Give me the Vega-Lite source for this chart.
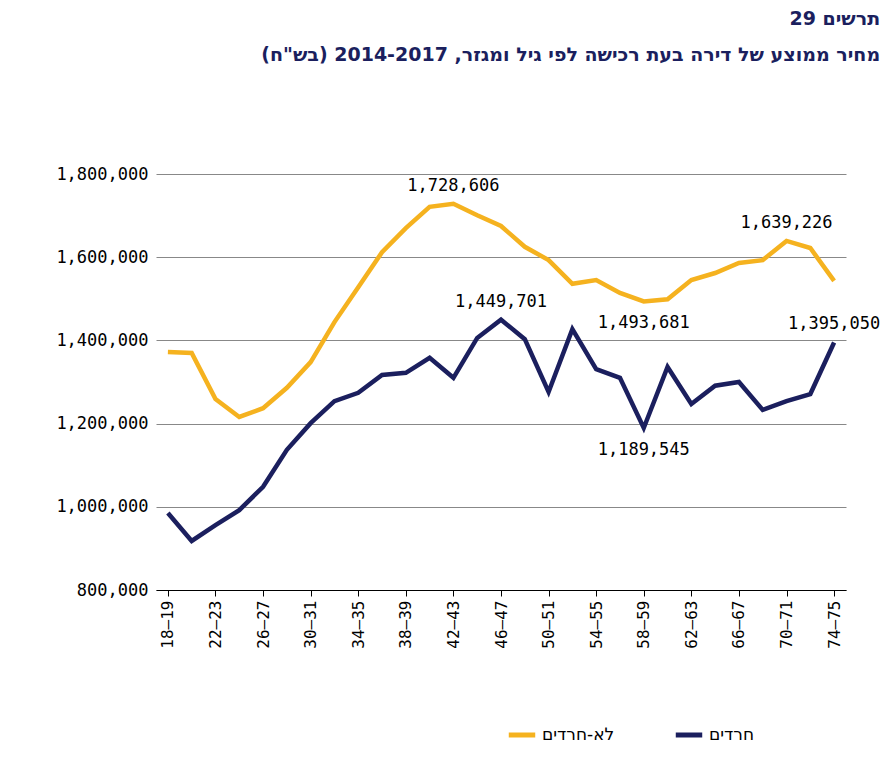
{
"$schema":"https://vega.github.io/schema/vega-lite/v6.json",
"width":690,"height":416,
"padding":{"left":55,"top":10,"right":20,"bottom":10},
"title":{"text":["תרשים 29","מחיר ממוצע של דירה בעת רכישה לפי גיל ומגזר, 2014-2017 (בש\"ח)"],"color":"#1b1f5e","font":"DejaVu Sans","fontSize":19,"fontWeight":"bold","anchor":"end","lineHeight":36,"offset":100},
"config":{"view":{"stroke":null},"font":"DejaVu Sans Mono"},
"data":{"values":[
{"age":"18–19","s":"חרדים","v":985000},{"age":"20–21","s":"חרדים","v":918000},{"age":"22–23","s":"חרדים","v":956000},{"age":"24–25","s":"חרדים","v":992000},{"age":"26–27","s":"חרדים","v":1048000},{"age":"28–29","s":"חרדים","v":1137000},{"age":"30–31","s":"חרדים","v":1201000},{"age":"32–33","s":"חרדים","v":1254000},{"age":"34–35","s":"חרדים","v":1274000},{"age":"36–37","s":"חרדים","v":1317000},{"age":"38–39","s":"חרדים","v":1322000},{"age":"40–41","s":"חרדים","v":1358000},{"age":"42–43","s":"חרדים","v":1310000},{"age":"44–45","s":"חרדים","v":1406000},{"age":"46–47","s":"חרדים","v":1449701,"label":"1,449,701"},{"age":"48–49","s":"חרדים","v":1403000},{"age":"50–51","s":"חרדים","v":1276000},{"age":"52–53","s":"חרדים","v":1427000},{"age":"54–55","s":"חרדים","v":1331000},{"age":"56–57","s":"חרדים","v":1310000},{"age":"58–59","s":"חרדים","v":1189545,"label":"1,189,545","below":true},{"age":"60–61","s":"חרדים","v":1336000},{"age":"62–63","s":"חרדים","v":1247000},{"age":"64–65","s":"חרדים","v":1291000},{"age":"66–67","s":"חרדים","v":1300000},{"age":"68–69","s":"חרדים","v":1233000},{"age":"70–71","s":"חרדים","v":1254000},{"age":"72–73","s":"חרדים","v":1271000},{"age":"74–75","s":"חרדים","v":1395050,"label":"1,395,050"},
{"age":"18–19","s":"לא-חרדים","v":1372000},{"age":"20–21","s":"לא-חרדים","v":1370000},{"age":"22–23","s":"לא-חרדים","v":1259000},{"age":"24–25","s":"לא-חרדים","v":1216000},{"age":"26–27","s":"לא-חרדים","v":1237000},{"age":"28–29","s":"לא-חרדים","v":1286000},{"age":"30–31","s":"לא-חרדים","v":1348000},{"age":"32–33","s":"לא-חרדים","v":1444000},{"age":"34–35","s":"לא-חרדים","v":1528000},{"age":"36–37","s":"לא-חרדים","v":1612000},{"age":"38–39","s":"לא-חרדים","v":1670000},{"age":"40–41","s":"לא-חרדים","v":1721000},{"age":"42–43","s":"לא-חרדים","v":1728606,"label":"1,728,606"},{"age":"44–45","s":"לא-חרדים","v":1701000},{"age":"46–47","s":"לא-חרדים","v":1675000},{"age":"48–49","s":"לא-חרדים","v":1625000},{"age":"50–51","s":"לא-חרדים","v":1593000},{"age":"52–53","s":"לא-חרדים","v":1536000},{"age":"54–55","s":"לא-חרדים","v":1545000},{"age":"56–57","s":"לא-חרדים","v":1514000},{"age":"58–59","s":"לא-חרדים","v":1493681,"label":"1,493,681","below":true},{"age":"60–61","s":"לא-חרדים","v":1499000},{"age":"62–63","s":"לא-חרדים","v":1545000},{"age":"64–65","s":"לא-חרדים","v":1562000},{"age":"66–67","s":"לא-חרדים","v":1586000},{"age":"68–69","s":"לא-חרדים","v":1593000},{"age":"70–71","s":"לא-חרדים","v":1639226,"label":"1,639,226"},{"age":"72–73","s":"לא-חרדים","v":1622000},{"age":"74–75","s":"לא-חרדים","v":1543000}
]},
"encoding":{
"x":{"field":"age","type":"ordinal","sort":null,"scale":{"paddingOuter":0.45},"title":null,"axis":{"values":["18–19","22–23","26–27","30–31","34–35","38–39","42–43","46–47","50–51","54–55","58–59","62–63","66–67","70–71","74–75"],"labelAngle":-90,"labelFontSize":16,"labelColor":"#000","domainColor":"#000","tickColor":"#000","tickSize":6,"labelPadding":4}},
"y":{"field":"v","type":"quantitative","scale":{"domain":[800000,1800000]},"title":null,"axis":{"values":[800000,1000000,1200000,1400000,1600000,1800000],"format":",.0f","labelOverlap":false,"labelFontSize":17,"labelColor":"#000","domain":false,"ticks":false,"gridColor":"#888","labelPadding":8}}
},
"layer":[
{"mark":{"type":"line","strokeWidth":4.5},"encoding":{"color":{"field":"s","type":"nominal","scale":{"domain":["לא-חרדים","חרדים"],"range":["#f5b21f","#1b1f5e"]},"legend":{"orient":"none","legendX":350,"legendY":545,"direction":"horizontal","title":null,"labelFontSize":17,"labelFont":"DejaVu Sans","symbolType":"stroke","symbolStrokeWidth":5,"symbolSize":700,"columnPadding":50}}}},
{"transform":[{"filter":"datum.label && !datum.below"}],"mark":{"type":"text","dy":-18,"fontSize":17},"encoding":{"text":{"field":"label"}}},
{"transform":[{"filter":"datum.label && datum.below"}],"mark":{"type":"text","dy":22,"fontSize":17},"encoding":{"text":{"field":"label"}}}
]
}
